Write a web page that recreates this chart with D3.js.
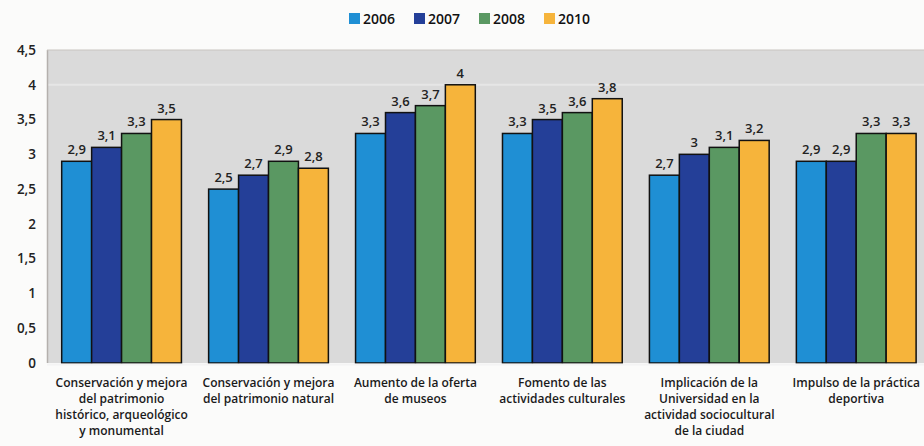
<!DOCTYPE html>
<html>
<head>
<meta charset="utf-8">
<script src="https://cdn.jsdelivr.net/npm/d3@7"></script>
<style>
  body { margin: 0; background: #fbfbfa; }
  svg { display: block; font-family: "Open Sans", sans-serif; }
</style>
</head>
<body>
<svg id="chart" width="924" height="446"></svg>
<script>
var categories = [
  ["Conservación y mejora", "del patrimonio", "histórico, arqueológico", "y monumental"],
  ["Conservación y mejora", "del patrimonio natural"],
  ["Aumento de la oferta", "de museos"],
  ["Fomento de las", "actividades culturales"],
  ["Implicación de la", "Universidad en la", "actividad sociocultural", "de la ciudad"],
  ["Impulso de la práctica", "deportiva"]
];
var years = ["2006", "2007", "2008", "2010"];
var v2006 = [2.9, 2.5, 3.3, 3.3, 2.7, 2.9];
var v2007 = [3.1, 2.7, 3.6, 3.5, 3.0, 2.9];
var v2008 = [3.3, 2.9, 3.7, 3.6, 3.1, 3.3];
var v2010 = [3.5, 2.8, 4.0, 3.8, 3.2, 3.3];
var yTicks = [0, 0.5, 1, 1.5, 2, 2.5, 3, 3.5, 4, 4.5];
var colors = ["#1f8fd4", "#243f98", "#5a9862", "#f6b43b"];

var series = [v2006, v2007, v2008, v2010];
var svg = d3.select("#chart");
var plotLeft = 47, plotTop = 50, plotBottom = 363;

var x0 = d3.scaleBand()
  .domain(d3.range(categories.length))
  .range([plotLeft, plotLeft + 6 * 147.3])
  .paddingInner(0.185)
  .paddingOuter(0.1);
var x1 = d3.scaleBand()
  .domain(years)
  .range([0, x0.bandwidth()]);
var y = d3.scaleLinear().domain([0, 4.5]).range([plotBottom, plotTop]);
var fmt = function (d) { return String(d).replace(".", ","); };

// plot background
svg.append("rect")
  .attr("x", plotLeft).attr("y", plotTop)
  .attr("width", 924 - plotLeft).attr("height", plotBottom - plotTop)
  .attr("fill", "#dadada");
svg.append("line")
  .attr("x1", plotLeft).attr("x2", 924)
  .attr("y1", y(4)).attr("y2", y(4))
  .attr("stroke", "#e6e6e6").attr("stroke-width", 2);
svg.append("line")
  .attr("x1", plotLeft + 0.5).attr("x2", plotLeft + 0.5)
  .attr("y1", plotTop).attr("y2", plotBottom)
  .attr("stroke", "#b4b0ad").attr("stroke-width", 1.5);
svg.append("line")
  .attr("x1", plotLeft).attr("x2", 924)
  .attr("y1", plotTop).attr("y2", plotTop)
  .attr("stroke", "#c8c4c0").attr("stroke-width", 1);

// y axis labels
svg.append("g").selectAll("text")
  .data(yTicks)
  .enter().append("text")
  .attr("x", 36)
  .attr("y", function (d) { return y(d); })
  .attr("dy", "0.35em")
  .attr("text-anchor", "end")
  .attr("font-size", 13.5)
  .attr("font-weight", 600)
  .attr("fill", "#222")
  .text(fmt);

// bars
var groups = svg.append("g").selectAll("g")
  .data(categories)
  .enter().append("g")
  .attr("transform", function (d, i) { return "translate(" + x0(i) + ",0)"; });

years.forEach(function (yr, k) {
  groups.append("rect")
    .attr("x", x1(yr))
    .attr("y", function (d, i) { return y(series[k][i]); })
    .attr("width", x1.bandwidth())
    .attr("height", function (d, i) { return plotBottom - y(series[k][i]); })
    .attr("fill", colors[k])
    .attr("stroke", "#111")
    .attr("stroke-width", 1.5);
  groups.append("text")
    .attr("x", x1(yr) + x1.bandwidth() / 2)
    .attr("y", function (d, i) { return y(series[k][i]) - 7; })
    .attr("text-anchor", "middle")
    .attr("font-size", 13)
    .attr("font-weight", 600)
    .attr("fill", "#222")
    .text(function (d, i) { return fmt(series[k][i]); });
});

// baseline
svg.append("line")
  .attr("x1", plotLeft).attr("x2", 924)
  .attr("y1", plotBottom + 1.5).attr("y2", plotBottom + 1.5)
  .attr("stroke", "#f4f4f4").attr("stroke-width", 2);

// category labels
groups.append("text")
  .attr("x", x0.bandwidth() / 2)
  .attr("y", 387)
  .attr("text-anchor", "middle")
  .attr("font-size", 12)
  .attr("font-weight", 600)
  .attr("fill", "#1a1a1a")
  .selectAll("tspan")
  .data(function (d) { return d; })
  .enter().append("tspan")
  .attr("x", x0.bandwidth() / 2)
  .attr("dy", function (d, i) { return i === 0 ? 0 : 16; })
  .text(function (d) { return d; });

// legend
var legendX = [349, 414, 479, 544];
var legend = svg.append("g").selectAll("g")
  .data(years)
  .enter().append("g")
  .attr("transform", function (d, i) { return "translate(" + legendX[i] + ",13)"; });
legend.append("rect")
  .attr("width", 11).attr("height", 11)
  .attr("fill", function (d, i) { return colors[i]; });
legend.append("text")
  .attr("x", 14).attr("y", 6)
  .attr("dy", "0.35em")
  .attr("font-size", 14)
  .attr("font-weight", 600)
  .attr("fill", "#111")
  .text(function (d) { return d; });
</script>
</body>
</html>
